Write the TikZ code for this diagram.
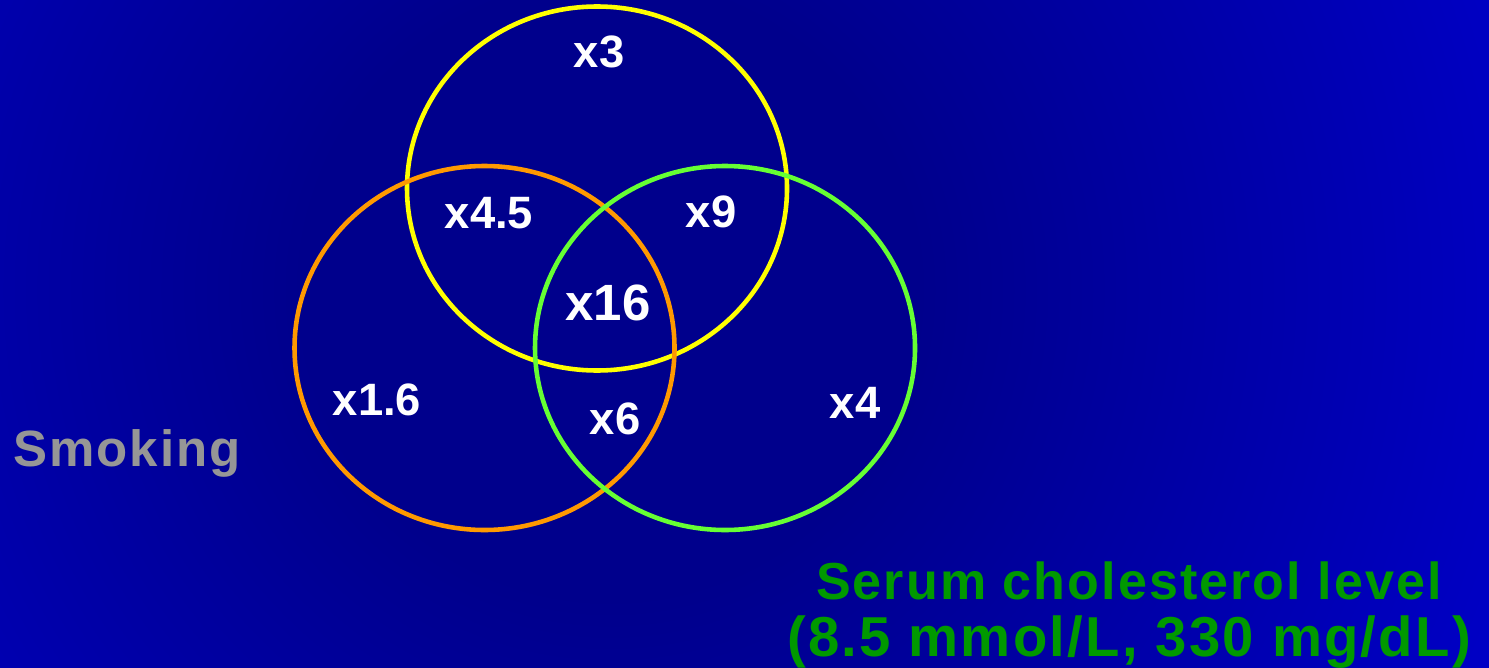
\documentclass[tikz,border=0pt]{standalone}
\usepackage{fontspec}
\setmainfont{Liberation Sans}
\newfontfamily\widesans[LetterSpace=4]{Liberation Sans}
\usetikzlibrary{positioning}
\definecolor{bgnavy}{RGB}{0,0,140}
\definecolor{bgblue}{RGB}{0,0,218}
\definecolor{ringyellow}{RGB}{255,255,0}
\definecolor{ringorange}{RGB}{255,153,0}
\definecolor{ringgreen}{RGB}{102,255,51}
\definecolor{riskgray}{RGB}{150,150,150}
\definecolor{riskgreen}{RGB}{0,153,0}
\pgfdeclareradialshading{slideglow}{\pgfpoint{0bp}{0bp}}{color(0bp)=(bgnavy); color(7bp)=(bgnavy); color(27bp)=(bgblue); color(50bp)=(bgblue)}

\begin{document}
\begin{tikzpicture}[x=0.01cm,y=-0.01cm,
  ring/.style={line width=1.3pt},
  factor/.style={text=white,font=\fontsize{12.9}{15}\selectfont\bfseries,inner sep=0pt},
  riskname/.style={font=\widesans\fontsize{14.5}{17}\selectfont\bfseries,align=center,inner sep=0pt}]
  % Background
  \useasboundingbox (0,0) rectangle (1489,667);
  \begin{scope}
    \clip (0,0) rectangle (1489,667);
    \shade[shading=slideglow] (610,290) circle (1100);
  \end{scope}
  % Risk circles
  \draw[ring,ringyellow] (597,188.5) ellipse [x radius=190,y radius=182];
  \draw[ring,ringorange] (484.5,348) ellipse [x radius=190,y radius=182];
  \draw[ring,ringgreen] (725,348) ellipse [x radius=190,y radius=182];
  % Relative risks
  \node[factor] (rTop) at (599,52) {x3};
  \node[factor] (rTopSmoke) at (489,213) {x4.5};
  \node[factor] (rTopChol) at (711,212) {x9};
  \node[factor,font=\fontsize{14.5}{17}\selectfont\bfseries] (rAll) at (608,303) {x16};
  \node[factor] (rSmoke) at (377,400) {x1.6};
  \node[factor] (rSmokeChol) at (615,419) {x6};
  \node[factor] (rChol) at (855,403) {x4};
  % Risk factor names
  \node[riskname,riskgray] (smoking) at (127,453) {Smoking};
  \node[riskname,riskgreen] (chol) at (1129,615)
    {\fontsize{14.8}{17}\selectfont Serum cholesterol level\\[-1pt]\fontsize{16}{18}\selectfont(8.5 mmol/L, 330 mg/dL)};
\end{tikzpicture}
\end{document}
